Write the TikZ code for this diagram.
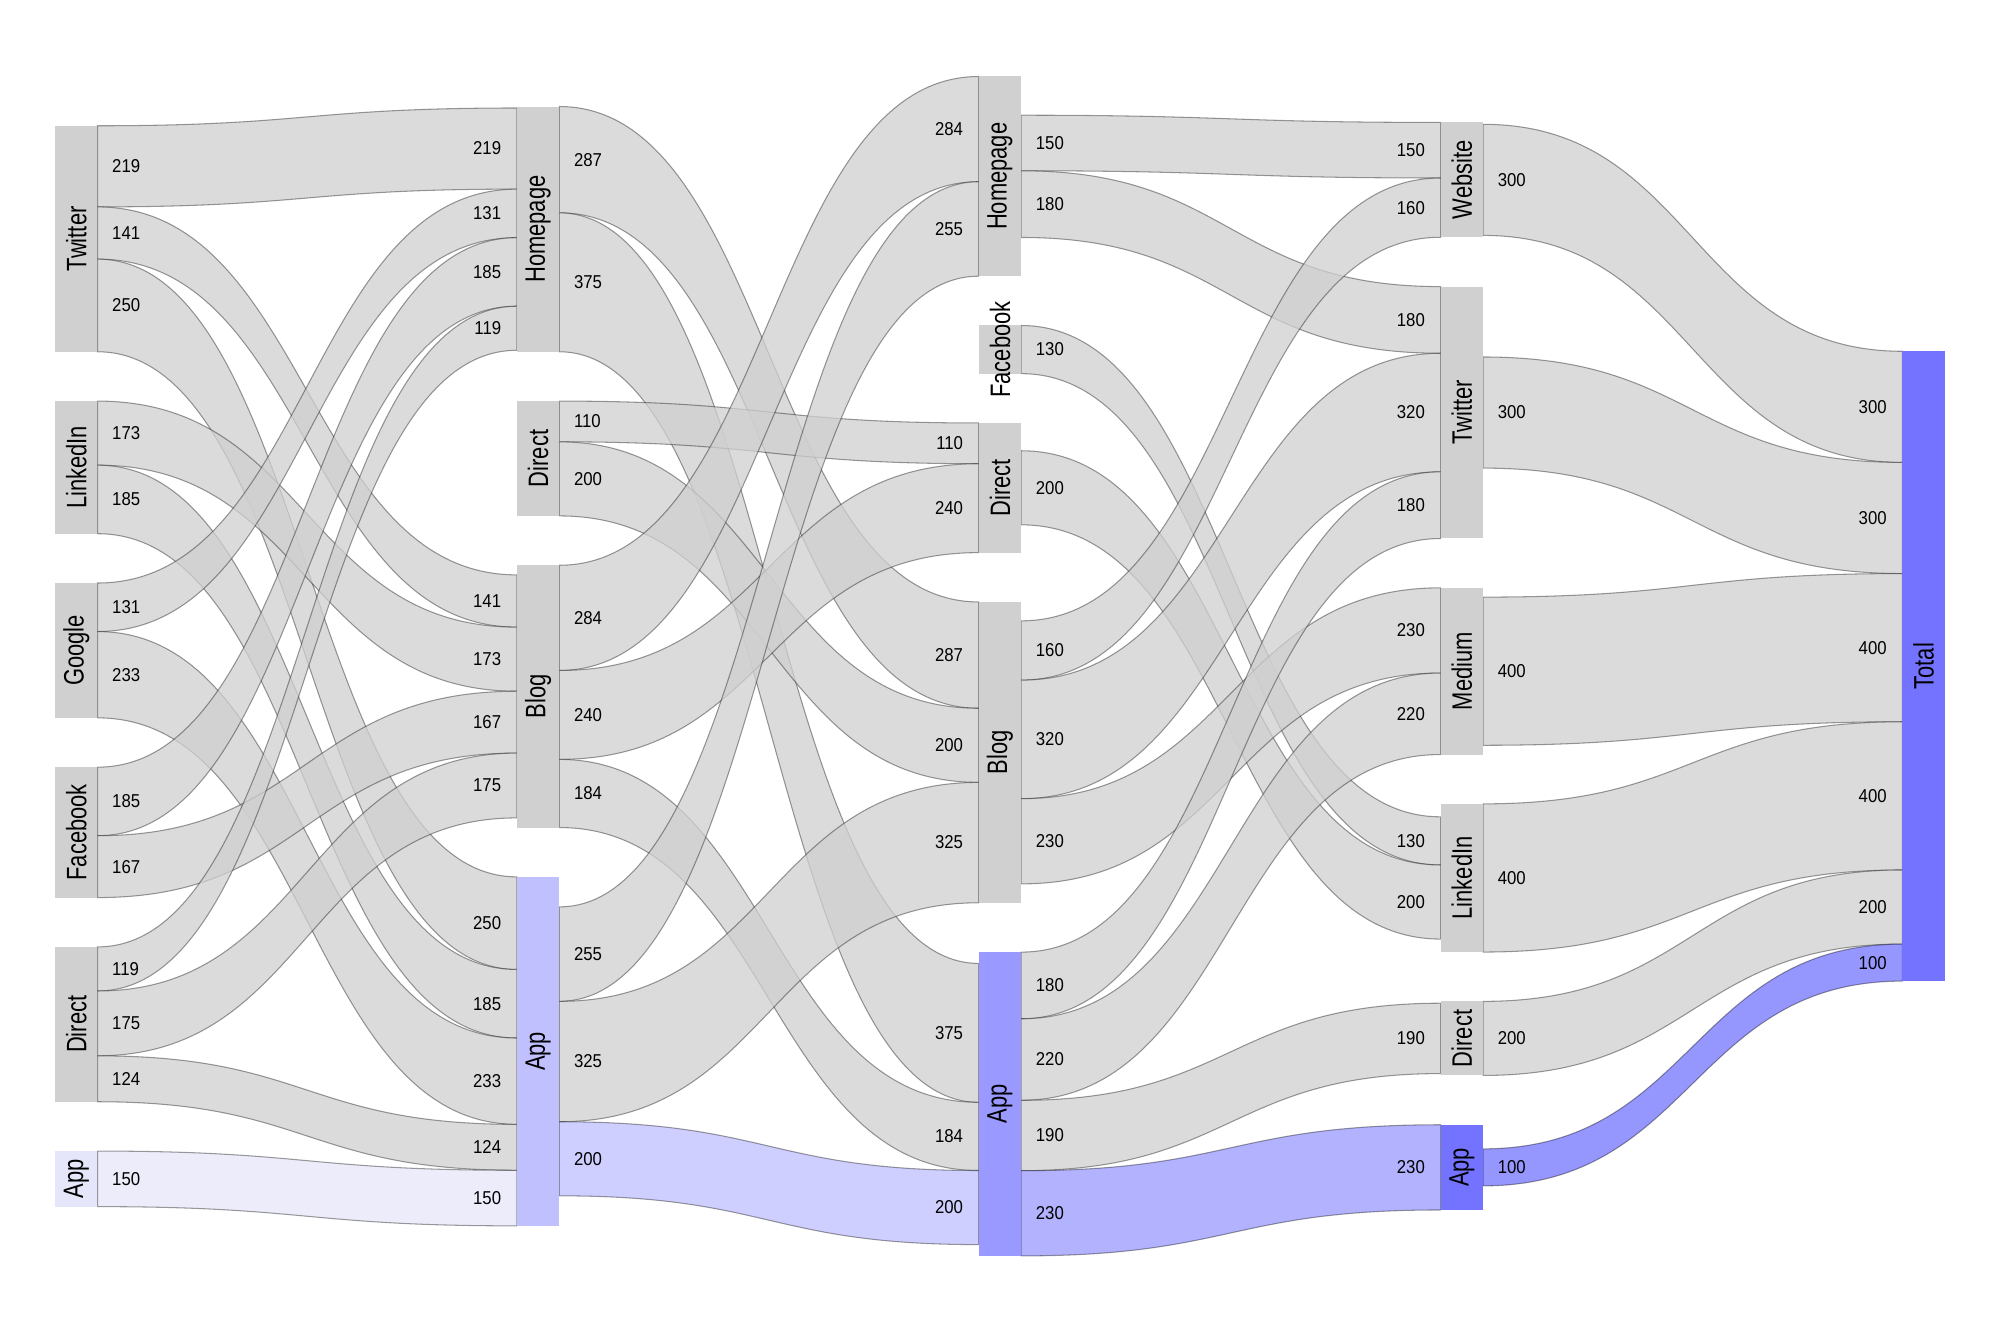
\documentclass[tikz,border=0pt]{standalone}
\usepackage{fontspec}
\setmainfont{Liberation Sans}
\newfontfamily\nodefont[FakeStretch=0.78]{Liberation Sans}
\newfontfamily\valfont[FakeStretch=0.9]{Liberation Sans}
\usetikzlibrary{calc}
\pgfdeclarelayer{labels}
\pgfsetlayers{main,labels}
\definecolor{ngrey}{HTML}{D0D0D0}
\definecolor{lgrey}{HTML}{D0D0D0}
\definecolor{appA}{HTML}{E6E6FA}
\definecolor{appB}{HTML}{C0C0FF}
\definecolor{appC}{HTML}{9999FF}
\definecolor{appD}{HTML}{7373FF}
\definecolor{totc}{HTML}{7373FF}
\newcommand\snode[6]{% name, col, top, units, style, label
  \node[#5, minimum height={#4*0.03705mm}] (#1) at ({55+461.85*#2},#3) {};
  \node[nlab] (#1-l) at (#1.center) {#6};
}
\newcommand\lnk[6]{% style, src, src off, tgt, tgt off, value
  \path (#2.north east) ++(0,{#3*0.3705}) coordinate (a1) ++(0,{#6*0.3705}) coordinate (a2);
  \path (#4.north west) ++(0,{#5*0.3705}) coordinate (b1) ++(0,{#6*0.3705}) coordinate (b2);
  \path[#1] (a1) .. controls ($(a1)+(209.7,0)$) and ($(b1)+(-209.7,0)$) .. (b1) -- (b2)
     .. controls ($(b2)+(-209.7,0)$) and ($(a2)+(209.7,0)$) .. (a2) -- cycle;
  \begin{pgfonlayer}{labels}
  \node[vlab, anchor=west] (#2-#4-s) at ($(a1)!0.5!(a2)+(14,0)$) {#6};
  \node[vlab, anchor=east] (#2-#4-t) at ($(b1)!0.5!(b2)+(-15,0)$) {#6};
  \end{pgfonlayer}
}
\begin{document}
\begin{tikzpicture}[x=0.1mm,y=-0.1mm,
  nbox/.style={rectangle, inner sep=0pt, outer sep=0pt, minimum width=4.25mm, anchor=north west},
  gnode/.style={nbox, fill=ngrey},
  nlab/.style={rotate=90, inner sep=0pt, font=\nodefont\fontsize{8}{9}\selectfont, text=black},
  vlab/.style={inner sep=0pt, font=\valfont\fontsize{5.3}{6}\selectfont, text=black},
  lbase/.style={fill opacity=0.75, draw=black, draw opacity=0.38, line width=0.3pt},
  glink/.style={lbase, fill=lgrey},
  alinkA/.style={lbase, fill=appA},
  alinkB/.style={lbase, fill=appB},
  alinkC/.style={lbase, fill=appC},
  alinkD/.style={lbase, fill=appD}]
\fill[white] (0,0) rectangle (2000,1333);
\useasboundingbox (0,0) rectangle (2000,1333);
% nodes (positions defined first, drawn invisibly, redrawn later on top)
\begin{scope}[every node/.append style={opacity=0}]
\end{scope}
% column 0
\node[nbox, minimum height={610*0.03705mm}] (tw0) at (55,125.77) {};
\node[nbox, minimum height={358*0.03705mm}] (li0) at (55,401.08) {};
\node[nbox, minimum height={364*0.03705mm}] (go0) at (55,583.02) {};
\node[nbox, minimum height={352*0.03705mm}] (fb0) at (55,767.18) {};
\node[nbox, minimum height={418*0.03705mm}] (di0) at (55,946.9) {};
\node[nbox, minimum height={150*0.03705mm}] (ap0) at (55,1151.07) {};
% column 1
\node[nbox, minimum height={662*0.03705mm}] (ho1) at (516.85,106.52) {};
\node[nbox, minimum height={310*0.03705mm}] (di1) at (516.85,401.09) {};
\node[nbox, minimum height={708*0.03705mm}] (bl1) at (516.85,565.25) {};
\node[nbox, minimum height={942*0.03705mm}] (ap1) at (516.85,876.86) {};
% column 2
\node[nbox, minimum height={539*0.03705mm}] (ho2) at (978.7,76.5) {};
\node[nbox, minimum height={130*0.03705mm}] (fb2) at (978.7,325.5) {};
\node[nbox, minimum height={350*0.03705mm}] (di2) at (978.7,422.97) {};
\node[nbox, minimum height={812*0.03705mm}] (bl2) at (978.7,601.95) {};
\node[nbox, minimum height={820*0.03705mm}] (ap2) at (978.7,952.1) {};
% column 3
\node[nbox, minimum height={310*0.03705mm}] (we3) at (1440.55,122.43) {};
\node[nbox, minimum height={680*0.03705mm}] (tw3) at (1440.55,286.59) {};
\node[nbox, minimum height={450*0.03705mm}] (me3) at (1440.55,587.83) {};
\node[nbox, minimum height={400*0.03705mm}] (li3) at (1440.55,803.86) {};
\node[nbox, minimum height={200*0.03705mm}] (di3) at (1440.55,1001.36) {};
\node[nbox, minimum height={230*0.03705mm}] (ap3) at (1440.55,1124.76) {};
% column 4
\node[nbox, minimum height={1700*0.03705mm}] (to4) at (1902.4,351.28) {};
% links column 0 -> 1
\lnk{glink}{tw0}{0}{ho1}{4}{219}
\lnk{glink}{tw0}{219}{bl1}{26}{141}
\lnk{glink}{tw0}{360}{ap1}{0}{250}
\lnk{glink}{li0}{0}{bl1}{167}{173}
\lnk{glink}{li0}{173}{ap1}{250}{185}
\lnk{glink}{go0}{0}{ho1}{223}{131}
\lnk{glink}{go0}{131}{ap1}{435}{233}
\lnk{glink}{fb0}{0}{ho1}{354}{185}
\lnk{glink}{fb0}{185}{bl1}{340}{167}
\lnk{glink}{di0}{0}{ho1}{539}{119}
\lnk{glink}{di0}{119}{bl1}{507}{175}
\lnk{glink}{di0}{294}{ap1}{668}{124}
\lnk{alinkA}{ap0}{0}{ap1}{792}{150}
% links column 1 -> 2
\lnk{glink}{ho1}{0}{bl2}{0}{287}
\lnk{glink}{ho1}{287}{ap2}{30.5}{375}
\lnk{glink}{di1}{0}{di2}{0}{110}
\lnk{glink}{di1}{110}{bl2}{287}{200}
\lnk{glink}{bl1}{0}{ho2}{0}{284}
\lnk{glink}{bl1}{284}{di2}{110}{240}
\lnk{glink}{bl1}{524}{ap2}{405.5}{184}
\lnk{glink}{ap1}{81}{ho2}{284}{255}
\lnk{glink}{ap1}{336}{bl2}{487}{325}
\lnk{alinkB}{ap1}{661}{ap2}{589.5}{200}
% links column 2 -> 3
\lnk{glink}{ho2}{104.5}{we3}{0}{150}
\lnk{glink}{ho2}{254.5}{tw3}{0}{180}
\lnk{glink}{fb2}{0}{li3}{35}{130}
\lnk{glink}{di2}{75}{li3}{165}{200}
\lnk{glink}{bl2}{51}{we3}{150}{160}
\lnk{glink}{bl2}{211}{tw3}{180}{320}
\lnk{glink}{bl2}{531}{me3}{0}{230}
\lnk{glink}{ap2}{0}{tw3}{500}{180}
\lnk{glink}{ap2}{180}{me3}{230}{220}
\lnk{glink}{ap2}{400}{di3}{5}{190}
\lnk{alinkC}{ap2}{590}{ap3}{0}{230}
% links column 3 -> 4
\lnk{glink}{we3}{5}{to4}{0}{300}
\lnk{glink}{tw3}{190}{to4}{300}{300}
\lnk{glink}{me3}{25}{to4}{600}{400}
\lnk{glink}{li3}{0}{to4}{1000}{400}
\lnk{glink}{di3}{0}{to4}{1400}{200}
\lnk{alinkD}{ap3}{65}{to4}{1600}{100}
% node bars on top of links
\foreach \n in {tw0,li0,go0,fb0,di0,ho1,di1,bl1,ho2,fb2,di2,bl2,we3,tw3,me3,li3,di3}
  \fill[ngrey] (\n.north west) rectangle (\n.south east);
\fill[appA] (ap0.north west) rectangle (ap0.south east);
\fill[appB] (ap1.north west) rectangle (ap1.south east);
\fill[appC] (ap2.north west) rectangle (ap2.south east);
\fill[appD] (ap3.north west) rectangle (ap3.south east);
\fill[totc] (to4.north west) rectangle (to4.south east);
% node labels
\begin{pgfonlayer}{labels}
\node[nlab] (tw0-l) at (tw0.center) {Twitter};
\node[nlab] (li0-l) at (li0.center) {LinkedIn};
\node[nlab] (go0-l) at (go0.center) {Google};
\node[nlab] (fb0-l) at (fb0.center) {Facebook};
\node[nlab] (di0-l) at (di0.center) {Direct};
\node[nlab] (ap0-l) at (ap0.center) {App};
\node[nlab] (ho1-l) at (ho1.center) {Homepage};
\node[nlab] (di1-l) at (di1.center) {Direct};
\node[nlab] (bl1-l) at (bl1.center) {Blog};
\node[nlab] (ap1-l) at (ap1.center) {App};
\node[nlab] (ho2-l) at (ho2.center) {Homepage};
\node[nlab] (fb2-l) at (fb2.center) {Facebook};
\node[nlab] (di2-l) at (di2.center) {Direct};
\node[nlab] (bl2-l) at (bl2.center) {Blog};
\node[nlab] (ap2-l) at (ap2.center) {App};
\node[nlab] (we3-l) at (we3.center) {Website};
\node[nlab] (tw3-l) at (tw3.center) {Twitter};
\node[nlab] (me3-l) at (me3.center) {Medium};
\node[nlab] (li3-l) at (li3.center) {LinkedIn};
\node[nlab] (di3-l) at (di3.center) {Direct};
\node[nlab] (ap3-l) at (ap3.center) {App};
\node[nlab] (to4-l) at (to4.center) {Total};
\end{pgfonlayer}
\end{tikzpicture}
\end{document}
